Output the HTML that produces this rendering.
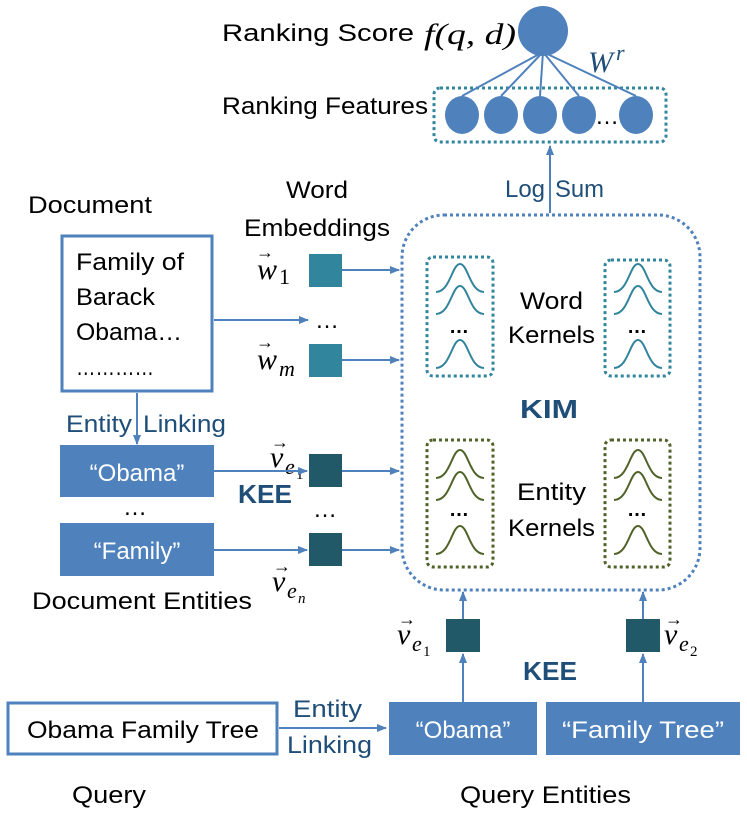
<!DOCTYPE html>
<html><head><meta charset="utf-8"><style>
html,body{margin:0;padding:0;background:#fff}
svg{display:block}
text{font-family:"Liberation Sans",sans-serif;font-size:24px;fill:#000}
.b{fill:#1f4e79}
.w{fill:#fff}
.m{font-family:"Liberation Serif",serif;font-style:italic;font-size:30px}
.s{font-family:"Liberation Serif",serif;font-style:italic;font-size:22px}
.t{font-family:"Liberation Serif",serif;font-size:15px}
</style></head><body>
<svg width="747" height="815" viewBox="0 0 747 815">
<defs>
<marker id="a" markerWidth="10" markerHeight="10" refX="9" refY="5" orient="auto" markerUnits="userSpaceOnUse"><path d="M0,1 L10,5 L0,9z" fill="#4f81bd"/></marker>
<g id="k" fill="none" stroke-width="2">
<path d="M-24,28 C-10,28 -8,0 0,0 C8,0 10,28 24,28"/>
<path d="M-24,50 C-10,50 -8,22 0,22 C8,22 10,50 24,50"/>
<path d="M-24,104 C-10,104 -8,76 0,76 C8,76 10,104 24,104"/>
</g>
</defs>
<!-- top -->
<text x="222" y="41" textLength="192" lengthAdjust="spacingAndGlyphs">Ranking Score</text>
<text x="424" y="44" class="m" textLength="92" lengthAdjust="spacingAndGlyphs">f(q, d)</text>
<circle cx="543" cy="31" r="25" fill="#4f81bd"/>
<text x="588" y="72" class="m" style="fill:#1f4e79">W</text><text x="616" y="60" class="s" style="fill:#1f4e79">r</text>
<text x="222" y="114" textLength="206" lengthAdjust="spacingAndGlyphs">Ranking Features</text>
<rect x="434" y="88" width="232" height="54" rx="6" fill="none" stroke="#31859c" stroke-width="3" stroke-dasharray="3,3"/>
<g stroke="#4f81bd" stroke-width="2">
<line x1="543" y1="52" x2="462" y2="96"/><line x1="543" y1="52" x2="501" y2="96"/><line x1="543" y1="52" x2="540" y2="96"/><line x1="543" y1="52" x2="579" y2="96"/><line x1="543" y1="52" x2="636" y2="96"/>
</g>
<g fill="#4f81bd">
<ellipse cx="462" cy="115" rx="17" ry="19"/><ellipse cx="501" cy="115" rx="17" ry="19"/><ellipse cx="540" cy="115" rx="17" ry="19"/><ellipse cx="579" cy="115" rx="17" ry="19"/><ellipse cx="636" cy="115" rx="17" ry="19"/>
</g>
<text x="595" y="124">…</text>
<line x1="550" y1="213" x2="550" y2="146" stroke="#4f81bd" stroke-width="2" marker-end="url(#a)"/>
<text x="505" y="197" class="b" textLength="40" lengthAdjust="spacingAndGlyphs">Log</text><text x="555" y="197" class="b" textLength="49" lengthAdjust="spacingAndGlyphs">Sum</text>
<!-- KIM -->
<rect x="402" y="215" width="298" height="375" rx="42" fill="none" stroke="#4f81bd" stroke-width="3" stroke-dasharray="3,3"/>
<rect x="427" y="257" width="66" height="119" rx="6" fill="none" stroke="#31859c" stroke-width="3" stroke-dasharray="3,3"/>
<rect x="605" y="260" width="65" height="116" rx="6" fill="none" stroke="#31859c" stroke-width="3" stroke-dasharray="3,3"/>
<rect x="427" y="440" width="66" height="127" rx="6" fill="none" stroke="#4f6228" stroke-width="3" stroke-dasharray="3,3"/>
<rect x="605" y="440" width="65" height="127" rx="6" fill="none" stroke="#4f6228" stroke-width="3" stroke-dasharray="3,3"/>
<use href="#k" x="460" y="264" stroke="#31849b"/>
<use href="#k" x="638" y="264" stroke="#31849b"/>
<use href="#k" x="460" y="450" stroke="#4f6228"/>
<use href="#k" x="638" y="450" stroke="#4f6228"/>
<text x="449" y="333" style="font-size:20px;font-weight:bold">…</text><text x="627" y="333" style="font-size:20px;font-weight:bold">…</text>
<text x="449" y="516" style="font-size:20px;font-weight:bold">…</text><text x="627" y="516" style="font-size:20px;font-weight:bold">…</text>
<text x="520" y="309" textLength="63" lengthAdjust="spacingAndGlyphs">Word</text>
<text x="508" y="343" textLength="87" lengthAdjust="spacingAndGlyphs">Kernels</text>
<text x="517" y="500" textLength="69" lengthAdjust="spacingAndGlyphs">Entity</text>
<text x="508" y="536" textLength="87" lengthAdjust="spacingAndGlyphs">Kernels</text>
<text x="520" y="418" class="b" style="font-weight:bold;font-size:26px" textLength="58" lengthAdjust="spacingAndGlyphs">KIM</text>
<!-- document -->
<text x="28" y="213" textLength="124" lengthAdjust="spacingAndGlyphs">Document</text>
<text x="286" y="198" textLength="62" lengthAdjust="spacingAndGlyphs">Word</text>
<text x="244" y="236" textLength="146" lengthAdjust="spacingAndGlyphs">Embeddings</text>
<rect x="62" y="236" width="150" height="155" fill="#fff" stroke="#4f81bd" stroke-width="3"/>
<text x="76" y="270" textLength="108" lengthAdjust="spacingAndGlyphs">Family of</text>
<text x="76" y="305" textLength="79" lengthAdjust="spacingAndGlyphs">Barack</text>
<text x="76" y="340" textLength="106" lengthAdjust="spacingAndGlyphs">Obama…</text>
<text x="76" y="375" textLength="78" lengthAdjust="spacingAndGlyphs">…………</text>
<line x1="214" y1="320" x2="308" y2="320" stroke="#4f81bd" stroke-width="2" marker-end="url(#a)"/>
<text x="315" y="328">…</text>
<text x="257" y="279" class="m">w</text><text x="279" y="284" class="s" style="font-style:normal">1</text><text x="256" y="258" style="font-size:18px">→</text>
<text x="257" y="369" class="m">w</text><text x="279" y="376" class="s">m</text><text x="256" y="348" style="font-size:18px">→</text>
<rect x="309" y="254" width="33" height="33" fill="#31859c"/>
<rect x="309" y="344" width="33" height="33" fill="#31859c"/>
<line x1="342" y1="270" x2="399" y2="270" stroke="#4f81bd" stroke-width="2" marker-end="url(#a)"/>
<line x1="342" y1="360" x2="399" y2="360" stroke="#4f81bd" stroke-width="2" marker-end="url(#a)"/>
<line x1="137" y1="393" x2="137" y2="444" stroke="#4f81bd" stroke-width="2" marker-end="url(#a)"/>
<text x="66" y="432" class="b" textLength="66" lengthAdjust="spacingAndGlyphs">Entity</text><text x="143" y="432" class="b" textLength="83" lengthAdjust="spacingAndGlyphs">Linking</text>
<rect x="60" y="445" width="154" height="52" fill="#4f81bd"/>
<text x="137" y="481" class="w" text-anchor="middle">“Obama”</text>
<text x="135" y="515" text-anchor="middle">…</text>
<rect x="60" y="523" width="154" height="53" fill="#4f81bd"/>
<text x="137" y="559" class="w" text-anchor="middle">“Family”</text>
<text x="32" y="609" textLength="220" lengthAdjust="spacingAndGlyphs">Document Entities</text>
<text x="238" y="503" class="b" style="font-weight:bold;font-size:26px" textLength="54" lengthAdjust="spacingAndGlyphs">KEE</text>
<text x="325" y="517" text-anchor="middle">…</text>
<text x="270" y="467" class="m">v</text><text x="285" y="474" class="s">e</text><text x="296" y="479" class="t">1</text><text x="271" y="448" style="font-size:18px">→</text>
<text x="272" y="591" class="m">v</text><text x="287" y="598" class="s">e</text><text x="298" y="603" class="t" style="font-style:italic">n</text><text x="273" y="572" style="font-size:18px">→</text>
<rect x="309" y="454" width="33" height="33" fill="#215968"/>
<rect x="309" y="533" width="33" height="33" fill="#215968"/>
<line x1="214" y1="471" x2="307" y2="471" stroke="#4f81bd" stroke-width="2" marker-end="url(#a)"/>
<line x1="214" y1="550" x2="307" y2="550" stroke="#4f81bd" stroke-width="2" marker-end="url(#a)"/>
<line x1="342" y1="471" x2="399" y2="471" stroke="#4f81bd" stroke-width="2" marker-end="url(#a)"/>
<line x1="342" y1="550" x2="399" y2="550" stroke="#4f81bd" stroke-width="2" marker-end="url(#a)"/>
<!-- query -->
<rect x="8" y="703" width="269" height="51" fill="#fff" stroke="#4f81bd" stroke-width="3"/>
<text x="27" y="738" textLength="232" lengthAdjust="spacingAndGlyphs">Obama Family Tree</text>
<line x1="279" y1="728" x2="386" y2="728" stroke="#4f81bd" stroke-width="2" marker-end="url(#a)"/>
<text x="293" y="717" class="b" textLength="69" lengthAdjust="spacingAndGlyphs">Entity</text>
<text x="287" y="753" class="b" textLength="85" lengthAdjust="spacingAndGlyphs">Linking</text>
<rect x="389" y="702" width="148" height="53" fill="#4f81bd"/>
<text x="463" y="738" class="w" text-anchor="middle">“Obama”</text>
<rect x="546" y="702" width="194" height="53" fill="#4f81bd"/>
<text x="643" y="738" class="w" text-anchor="middle" textLength="162" lengthAdjust="spacingAndGlyphs">“Family Tree”</text>
<line x1="463" y1="702" x2="463" y2="654" stroke="#4f81bd" stroke-width="2" marker-end="url(#a)"/>
<line x1="643" y1="702" x2="643" y2="654" stroke="#4f81bd" stroke-width="2" marker-end="url(#a)"/>
<line x1="463" y1="619" x2="463" y2="592" stroke="#4f81bd" stroke-width="2" marker-end="url(#a)"/>
<line x1="643" y1="619" x2="643" y2="592" stroke="#4f81bd" stroke-width="2" marker-end="url(#a)"/>
<rect x="446" y="619" width="34" height="33" fill="#215968"/>
<rect x="626" y="619" width="34" height="33" fill="#215968"/>
<text x="397" y="644" class="m">v</text><text x="412" y="651" class="s">e</text><text x="423" y="656" class="t">1</text><text x="398" y="625" style="font-size:18px">→</text>
<text x="664" y="644" class="m">v</text><text x="679" y="651" class="s">e</text><text x="690" y="656" class="t">2</text><text x="665" y="625" style="font-size:18px">→</text>
<text x="523" y="680" class="b" style="font-weight:bold;font-size:26px" textLength="54" lengthAdjust="spacingAndGlyphs">KEE</text>
<text x="72" y="803" textLength="74" lengthAdjust="spacingAndGlyphs">Query</text>
<text x="460" y="803" textLength="171" lengthAdjust="spacingAndGlyphs">Query Entities</text>
</svg>
</body></html>
